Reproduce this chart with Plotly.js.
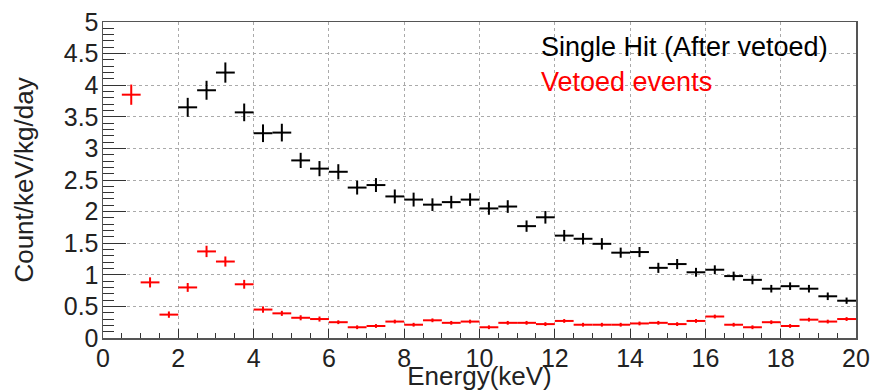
<!DOCTYPE html>
<html>
<head>
<meta charset="utf-8">
<script src="https://cdn.plot.ly/plotly-3.0.1.min.js"></script>
<style>
html, body { margin: 0; padding: 0; background: #ffffff; }
#chart { width: 875px; height: 391px; }
</style>
</head>
<body>
<div id="chart"></div>
<script>
// Single Hit (After vetoed): bin centres (keV), rates and errors
var singleHitEnergy = [2.25, 2.75, 3.25, 3.75, 4.25, 4.75, 5.25, 5.75, 6.25, 6.75, 7.25, 7.75, 8.25, 8.75, 9.25, 9.75, 10.25, 10.75, 11.25, 11.75, 12.25, 12.75, 13.25, 13.75, 14.25, 14.75, 15.25, 15.75, 16.25, 16.75, 17.25, 17.75, 18.25, 18.75, 19.25, 19.75];
var singleHitRate = [3.65, 3.92, 4.20, 3.57, 3.24, 3.25, 2.81, 2.68, 2.63, 2.38, 2.42, 2.24, 2.19, 2.11, 2.15, 2.19, 2.05, 2.08, 1.77, 1.91, 1.62, 1.57, 1.49, 1.35, 1.36, 1.11, 1.17, 1.04, 1.08, 0.98, 0.92, 0.78, 0.82, 0.78, 0.66, 0.59];
var singleHitErr = [0.15, 0.15, 0.16, 0.14, 0.14, 0.14, 0.12, 0.12, 0.12, 0.11, 0.11, 0.11, 0.11, 0.10, 0.10, 0.10, 0.10, 0.10, 0.09, 0.10, 0.09, 0.09, 0.09, 0.08, 0.08, 0.08, 0.08, 0.07, 0.07, 0.07, 0.07, 0.06, 0.06, 0.06, 0.06, 0.05];

// Vetoed events
var vetoedEnergy = [0.75, 1.25, 1.75, 2.25, 2.75, 3.25, 3.75, 4.25, 4.75, 5.25, 5.75, 6.25, 6.75, 7.25, 7.75, 8.25, 8.75, 9.25, 9.75, 10.25, 10.75, 11.25, 11.75, 12.25, 12.75, 13.25, 13.75, 14.25, 14.75, 15.25, 15.75, 16.25, 16.75, 17.25, 17.75, 18.25, 18.75, 19.25, 19.75];
var vetoedRate = [3.85, 0.88, 0.37, 0.80, 1.37, 1.21, 0.85, 0.45, 0.39, 0.32, 0.30, 0.25, 0.17, 0.19, 0.26, 0.21, 0.28, 0.24, 0.26, 0.17, 0.24, 0.24, 0.22, 0.27, 0.21, 0.21, 0.21, 0.23, 0.24, 0.22, 0.27, 0.34, 0.21, 0.17, 0.25, 0.19, 0.29, 0.26, 0.30];
var vetoedErr = [0.16, 0.08, 0.05, 0.07, 0.09, 0.08, 0.07, 0.05, 0.04, 0.04, 0.04, 0.03, 0.03, 0.03, 0.03, 0.03, 0.03, 0.03, 0.03, 0.03, 0.03, 0.03, 0.03, 0.03, 0.03, 0.03, 0.03, 0.03, 0.03, 0.03, 0.03, 0.03, 0.03, 0.03, 0.03, 0.03, 0.03, 0.03, 0.03];

var binHalfWidth = 0.25;
var legendLabels = ["Single Hit (After vetoed)", "Vetoed events"];
var xTitle = "Energy(keV)";
var yTitle = "Count/keV/kg/day";

var FONT = "Liberation Sans, Arial, Helvetica, sans-serif";

function histTrace(x, y, e, color, name) {
  return {
    type: "scatter",
    mode: "markers",
    name: name,
    x: x,
    y: y,
    marker: { size: 2, color: color },
    error_x: { type: "constant", value: binHalfWidth, color: color, thickness: 2, width: 0 },
    error_y: { type: "data", array: e, color: color, thickness: 2, width: 0 },
    showlegend: false,
    hoverinfo: "x+y"
  };
}

var data = [
  histTrace(vetoedEnergy, vetoedRate, vetoedErr, "#ff0000", legendLabels[1]),
  histTrace(singleHitEnergy, singleHitRate, singleHitErr, "#000000", legendLabels[0])
];

var layout = {
  width: 875,
  height: 391,
  margin: { l: 103, r: 19, t: 22, b: 53, pad: 0 },
  paper_bgcolor: "#ffffff",
  plot_bgcolor: "#ffffff",
  font: { family: FONT, size: 25, color: "#222222" },
  showlegend: false,
  xaxis: {
    range: [0, 20],
    tick0: 0,
    dtick: 2,
    ticks: "inside",
    ticklen: 9,
    tickwidth: 1,
    tickcolor: "#333333",
    minor: { dtick: 0.5, ticks: "inside", ticklen: 5, tickcolor: "#333333", showgrid: false },
    showgrid: true,
    gridcolor: "#aaaaaa",
    griddash: "dot",
    gridwidth: 1,
    showline: true,
    linecolor: "#555555",
    linewidth: 1.5,
    mirror: true,
    zeroline: false,
    ticklabelstandoff: -3,
    tickfont: { family: FONT, size: 25, color: "#222222" },
    title: { text: xTitle, font: { family: FONT, size: 26, color: "#222222" }, standoff: 0 },
    automargin: false
  },
  yaxis: {
    range: [0, 5],
    tick0: 0,
    dtick: 0.5,
    ticks: "inside",
    ticklen: 23,
    tickwidth: 1,
    tickcolor: "#333333",
    minor: { dtick: 0.1, ticks: "inside", ticklen: 11, tickcolor: "#333333", showgrid: false },
    showgrid: true,
    gridcolor: "#aaaaaa",
    griddash: "dot",
    gridwidth: 1,
    showline: true,
    linecolor: "#555555",
    linewidth: 1.5,
    mirror: true,
    zeroline: false,
    ticklabelstandoff: -2,
    tickfont: { family: FONT, size: 25, color: "#222222" },
    title: { text: yTitle, font: { family: FONT, size: 26, color: "#222222" }, standoff: 22 },
    automargin: false
  },
  annotations: [
    { x: 11.57, y: 4.6, xref: "x", yref: "y", xanchor: "left", yanchor: "middle", text: legendLabels[0], showarrow: false, font: { family: FONT, size: 27, color: "#000000" } },
    { x: 11.57, y: 4.05, xref: "x", yref: "y", xanchor: "left", yanchor: "middle", text: legendLabels[1], showarrow: false, font: { family: FONT, size: 27, color: "#ff0000" } }
  ]
};

Plotly.newPlot("chart", data, layout, { displayModeBar: false, staticPlot: true });
</script>
</body>
</html>
